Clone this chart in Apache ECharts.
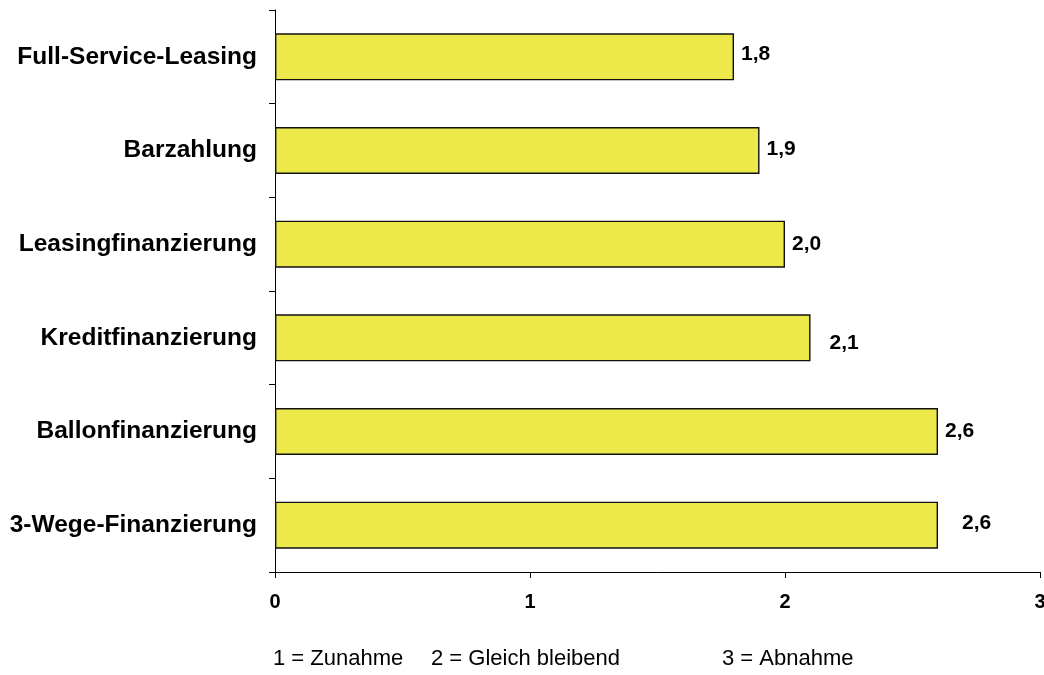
<!DOCTYPE html>
<html>
<head>
<meta charset="utf-8">
<script src="https://cdn.jsdelivr.net/npm/echarts@6/dist/echarts.min.js"></script>
<style>
  html, body { margin: 0; padding: 0; background: #ffffff; }
  #chart { width: 1044px; height: 675px; }
</style>
</head>
<body>
<div id="chart"></div>
<script>
// Financing forms, listed bottom to top as the category axis draws them
const categories = [
  '3-Wege-Finanzierung',
  'Ballonfinanzierung',
  'Kreditfinanzierung',
  'Leasingfinanzierung',
  'Barzahlung',
  'Full-Service-Leasing'
];
const values = [2.6, 2.6, 2.1, 2.0, 1.9, 1.8];
const xTicks = [0, 1, 2, 3];
// scale key printed under the axis
const legendKey = ['1 = Zunahme', '2 = Gleich bleibend', '3 = Abnahme'];

// small nudges for individual value labels [dx, dy]
const labelNudge = [[17, -2], [0, 0], [12, 5], [0, 0], [0, -1], [0, -3]];
// left edges of the key entries
const keyLeft = [273, 431, 722];

const fontFamily = 'Liberation Sans, Arial, sans-serif';

const chart = echarts.init(document.getElementById('chart'), null, { renderer: 'canvas' });

chart.setOption({
  animation: false,
  backgroundColor: '#ffffff',
  grid: {
    left: 275, right: 4, top: 10, bottom: 103,
    containLabel: false,
    outerBoundsMode: 'none'
  },
  xAxis: {
    type: 'value',
    min: xTicks[0],
    max: xTicks[xTicks.length - 1],
    interval: 1,
    splitLine: { show: false },
    axisLine: { show: true, lineStyle: { color: '#000', width: 1 } },
    axisTick: { show: true, length: 6, lineStyle: { color: '#000' } },
    axisLabel: {
      color: '#000',
      fontFamily: fontFamily,
      fontWeight: 'bold',
      fontSize: 20,
      margin: 20,
      formatter: v => String(v)
    }
  },
  yAxis: {
    type: 'category',
    data: categories,
    axisLine: { show: true, lineStyle: { color: '#000', width: 1 } },
    axisTick: { show: true, length: 6, alignWithLabel: false, lineStyle: { color: '#000' } },
    axisLabel: {
      color: '#000',
      fontFamily: fontFamily,
      fontWeight: 'bold',
      fontSize: 24.5,
      margin: 18
    }
  },
  series: [{
    type: 'bar',
    barWidth: 47,
    data: values.map((v, i) => ({
      value: v,
      label: { offset: labelNudge[i] }
    })),
    itemStyle: { color: '#EDE94A', borderColor: '#111', borderWidth: 1.4 },
    label: {
      show: true,
      position: 'right',
      distance: 7,
      color: '#000',
      fontFamily: fontFamily,
      fontWeight: 'bold',
      fontSize: 21,
      formatter: p => p.value.toFixed(1).replace('.', ',')
    }
  }],
  graphic: legendKey.map((t, i) => ({
    type: 'text',
    left: keyLeft[i],
    top: 648,
    style: {
      text: t,
      fill: '#000',
      font: '22px ' + fontFamily
    }
  }))
});
</script>
</body>
</html>
